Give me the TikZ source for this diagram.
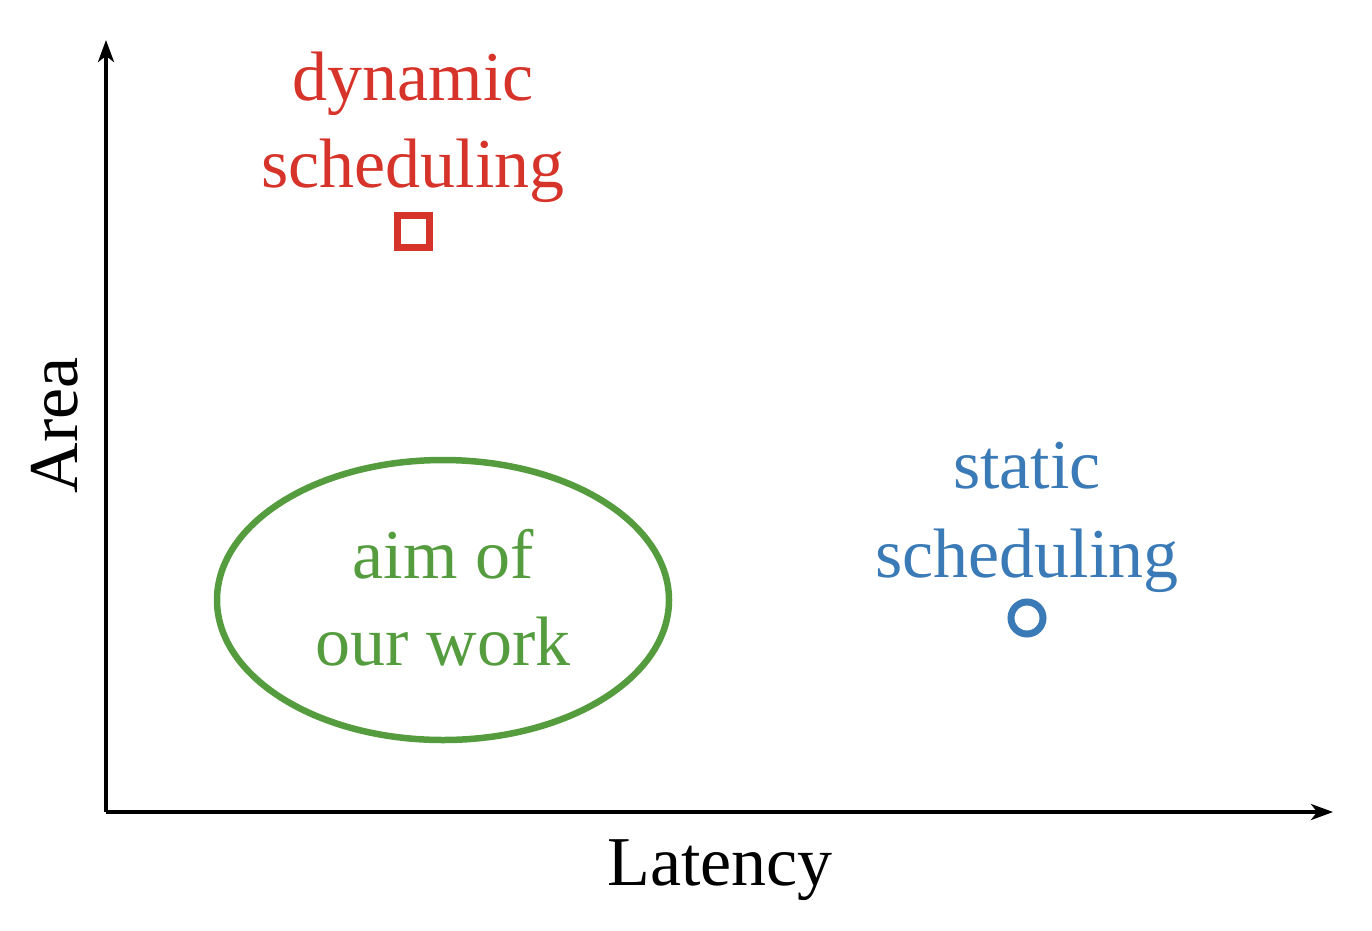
\documentclass[tikz,border=0pt]{standalone}
\usepackage{fontspec}
\setmainfont{Liberation Serif}
\usetikzlibrary{arrows.meta,shapes.geometric}
\definecolor{cred}{RGB}{214,52,42}
\definecolor{cblue}{RGB}{58,122,182}
\definecolor{cgreen}{RGB}{84,156,62}
\begin{document}
\begin{tikzpicture}[x=1pt,y=-1pt,
  lbl/.style={anchor=base,inner sep=0pt,font=\fontsize{70}{80}\selectfont},
  ax/.style={line width=3.5pt,-{Stealth[length=22pt,width=16pt,inset=6pt]}}]
\useasboundingbox (0,0) rectangle (1372,930);
\coordinate (o) at (106,812);
\coordinate (yt) at (106,40);
\coordinate (xt) at (1333,812);
\draw[ax] (o) -- (yt);
\draw[ax] (o) -- (xt);
\node[lbl] (lat) at (720,885) {Latency};
\node[lbl,rotate=90] (area) at (77,425) {Area};
\node[lbl,text=cred] (d1) at (413,100) {dynamic};
\node[lbl,text=cred] (d2) at (413,187) {scheduling};
\node[draw=cred,line width=7pt,minimum size=32pt,inner sep=0pt] (sq) at (413,231) {};
\node[lbl,text=cblue] (s1) at (1027,488) {static};
\node[lbl,text=cblue] (s2) at (1027,577) {scheduling};
\node[draw=cblue,line width=7pt,circle,minimum size=32pt,inner sep=0pt] (ci) at (1027,618) {};
\node[draw=cgreen,line width=6.5pt,ellipse,minimum width=452pt,minimum height=280pt,inner sep=0pt] (el) at (443,600) {};
\node[lbl,text=cgreen] (a1) at (443,578) {aim of};
\node[lbl,text=cgreen] (a2) at (443,665) {our work};
\end{tikzpicture}
\end{document}
